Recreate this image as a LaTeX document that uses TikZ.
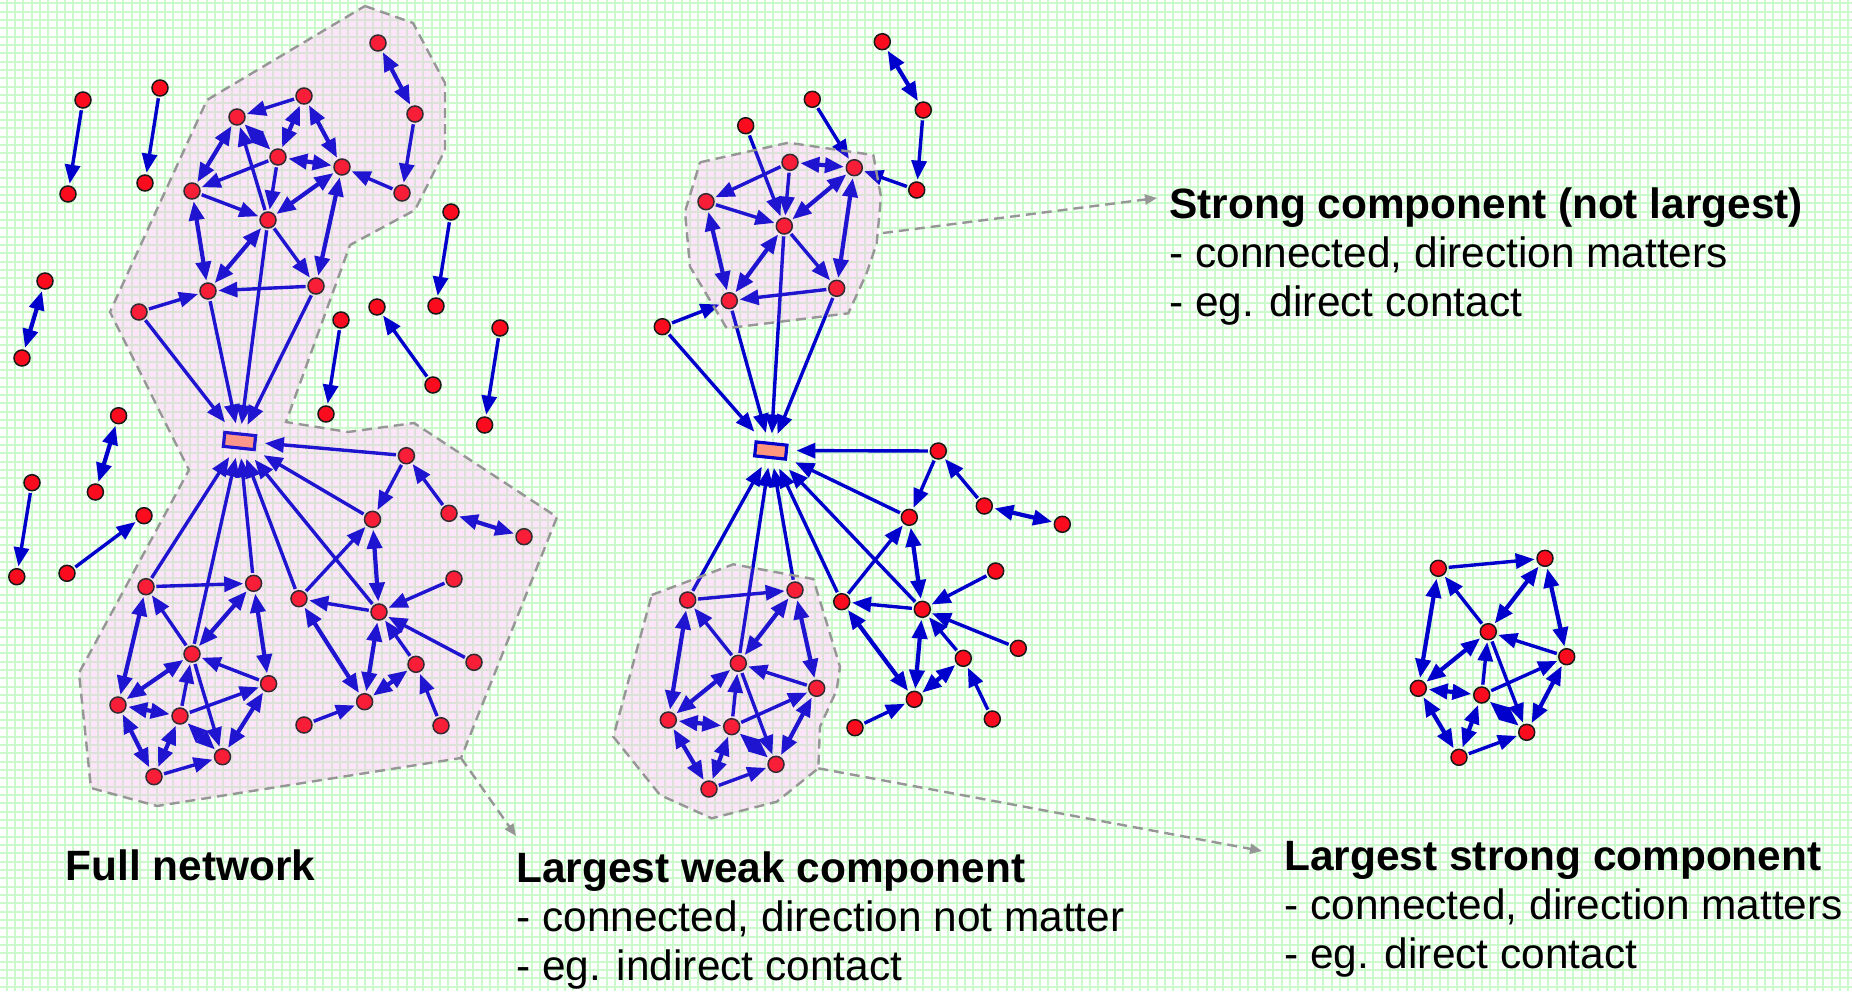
\documentclass[tikz,border=0pt]{standalone}
\usepackage{fontspec}
\setmainfont{Liberation Sans}
\usetikzlibrary{arrows.meta}
\definecolor{edgeblue}{RGB}{0,0,204}
\definecolor{vred}{RGB}{250,12,30}
\definecolor{gridgreen}{RGB}{204,250,204}
\definecolor{hubfill}{RGB}{255,150,125}
\definecolor{hullbase}{RGB}{255,205,245}
\definecolor{hulltint}{RGB}{245,155,230}
\definecolor{rimgray}{RGB}{150,150,150}
\begin{document}
\begin{tikzpicture}[x=0.5pt,y=-0.5pt,
  vtx/.style={circle,draw=black!90,line width=0.75pt,fill=vred,minimum size=8pt,inner sep=0pt,outer sep=1.2pt},
  hub/.style={rectangle,draw=edgeblue,line width=1.6pt,fill=hubfill,minimum width=15.5pt,minimum height=7pt,inner sep=0pt,outer sep=5pt,rotate=-6},
  oneway/.style={draw=edgeblue,line width=1.7pt,-{Triangle[length=9.5pt,width=7.5pt]}},
  twoway/.style={draw=edgeblue,line width=2.1pt,{Triangle[length=9.5pt,width=7.5pt]}-{Triangle[length=9.5pt,width=7.5pt]}},
  underlay/.style={fill=hullbase,fill opacity=0.28},
  overlay/.style={fill=hulltint,fill opacity=0.13},
  hullrim/.style={draw=rimgray,line width=1.2pt,dash pattern=on 5pt off 3pt},
  pointer/.style={draw=rimgray,line width=1.2pt,dash pattern=on 5pt off 3pt,-{Triangle[length=6pt,width=5pt]}},
  title/.style={anchor=base west,inner sep=0pt,font=\fontsize{21.2pt}{24pt}\selectfont\bfseries},
  body/.style={anchor=base west,inner sep=0pt,font=\fontsize{21.2pt}{24pt}\selectfont},
]
\useasboundingbox (0,0) rectangle (1852,991);
% background grid
\fill[white] (0,0) rectangle (1852,991);
\foreach \i in {0,...,222} {\draw[gridgreen,line width=1.1pt] ({6.7+8.333*\i},0) -- ({6.7+8.333*\i},991);}
\foreach \j in {0,...,119} {\draw[gridgreen,line width=1.1pt] (0,{3.3+8.333*\j}) -- (1852,{3.3+8.333*\j});}

% component outlines (shapes)
\def\fullhull{(365,6) -- (413,23) -- (445,83) -- (445,150) -- (415,210) -- (350,245) -- (286,422) -- (348,432) -- (414,423) -- (557,517) -- (461,758) -- (157,806) -- (91,788) -- (79,673) -- (189,470) -- (110,312) -- (207,100) -- cycle}
\def\tophull{(700,162.3) -- (788.3,142.7) -- (873.3,155) -- (881,196.7) -- (876.7,243.3) -- (866.7,273) -- (848.3,313.3) -- (726.7,328.3) -- (690,266.7) -- (685,211.7) -- cycle}
\def\bothull{(651.7,595) -- (733.3,564.3) -- (813.3,579) -- (840,666.7) -- (836.7,690) -- (820,726.7) -- (818.3,768.3) -- (776.7,801.7) -- (711.7,818.3) -- (660,795) -- (613.3,736.7) -- cycle}
\fill[underlay] \fullhull;
\fill[underlay] \tophull;
\fill[underlay] \bothull;

% ---------------- full network ----------------
\node[hub] (Fh) at (239.5,441) {};
\foreach \n/\x/\y in {a1/378/43,a2/415/114,a3/402/193,a4/304/96,a5/237/117,a6/278/157,a7/342/167,a8/192/191,a9/268/220,a10/208/291,a11/316/286,a12/139/312,
  b1/83/100,b2/68/194,b3/160/88,b4/145/183,b5/45/281,b6/22/358,b7/451/212,b8/436/306,b9/377/307,b10/433/385,b11/341/320,b12/326/414,
  c1/118.6/415.7,c2/95.4/492,c3/32/482.7,c4/16.8/576.7,c5/67/573.3,c6/144/515.7,c8/484.6/425,c9/500/328,
  d1/406.4/455.7,d2/372.5/519.3,d3/449/513.3,d4/524/536.7,d5/454/579,d6/379/612,d7/299/598.7,d8/146/586.7,d9/253.6/583.3,d10/192/654,
  d11/268.6/683.7,d12/118/705,d13/180/716,d14/222.5/756.7,d15/154/776.7,d16/416/664.3,d17/474/662.3,d18/364.6/701.7,d19/304/725,d20/441/725.7}
  {\node[vtx] (F\n) at (\x,\y) {};}

\foreach \s/\t in {a2/a3,a3/a7,a4/a5,a6/a8,a6/a9,a8/a9,a9/a5,a9/a11,a11/a10,a12/a10,
  b1/b2,b3/b4,b7/b8,b10/b9,b11/b12,c3/c4,c5/c6,c9/c8,
  d1/d2,d3/d1,d7/d2,d6/d7,d5/d6,d17/d6,d16/d6,d19/d18,d20/d16,d8/d9,d10/d8,d11/d10,d13/d10,d10/d14,d13/d11,d15/d14}
  {\draw[oneway] (F\s) -- (F\t);}
\foreach \s/\t in {a1/a2,a4/a6,a4/a7,a5/a6,a6/a7,a5/a8,a7/a9,a8/a10,a9/a10,a7/a11,
  b5/b6,c1/c2,
  d3/d4,d2/d6,d18/d6,d7/d18,d18/d16,d9/d10,d9/d11,d8/d12,d10/d12,d12/d13,d12/d15,d13/d15,d13/d14,d14/d11}
  {\draw[twoway] (F\s) -- (F\t);}
\foreach \s in {a12,a10,a9,a11,d1,d2,d6,d7,d8,d9,d10}
  {\draw[oneway] (F\s) -- (Fh);}

% ---------------- largest weak component ----------------
\node[hub] (Mh) at (770.8,450.5) {};
\foreach \n/\x/\y in {m1/882.3/41.7,m2/923.3/110,m3/916.7/190,m4/812.3/99.3,m5/745.7/125.7,m6/790/162.3,m7/854.3/167.7,m8/706/201.7,
  m9/784.3/226,m10/729.3/300.7,m11/836.7/288.3,m12/662.3/326.7,
  n1/938.3/451,n2/909.3/517.3,n3/984.3/506,n4/1062.3/524.3,n5/995.7/571,n6/922.3/609.3,n7/841.7/601.7,n8/687.7/600,n9/795/590,n10/738.3/663.3,
  n11/816.7/688.3,n12/668.3/720,n13/731.7/726.7,n14/776/764.3,n15/709/789,n16/963.3/658.3,n17/1018.3/648.3,n18/914.3/699.3,n19/855/727.7,n20/992.3/719}
  {\node[vtx] (M\n) at (\x,\y) {};}

\foreach \s/\t in {m2/m3,m3/m7,m4/m7,m5/m9,m6/m8,m6/m9,m8/m9,m9/m11,m11/m10,m12/m10,
  n1/n2,n3/n1,n7/n2,n6/n7,n5/n6,n17/n6,n16/n6,n19/n18,n20/n16,n8/n9,n10/n8,n11/n10,n13/n10,n10/n14,n13/n11,n15/n14}
  {\draw[oneway] (M\s) -- (M\t);}
\foreach \s/\t in {m1/m2,m6/m7,m7/m9,m7/m11,m8/m10,m9/m10,
  n3/n4,n2/n6,n18/n6,n7/n18,n18/n16,n9/n10,n9/n11,n8/n12,n10/n12,n12/n13,n12/n15,n13/n15,n13/n14,n14/n11}
  {\draw[twoway] (M\s) -- (M\t);}
\foreach \s in {m12,m10,m9,m11,n1,n2,n6,n7,n8,n9,n10}
  {\draw[oneway] (M\s) -- (Mh);}

% ---------------- largest strong component ----------------
\foreach \n/\x/\y in {r1/1438.3/568.3,r2/1545/558.3,r3/1488.3/631.7,r4/1566.7/656.7,r5/1418.3/688.3,r6/1481.7/695,r7/1526.7/732.3,r8/1459/757.3}
  {\node[vtx] (R\n) at (\x,\y) {};}
\foreach \s/\t in {r1/r2,r3/r1,r4/r3,r6/r3,r3/r7,r6/r4,r8/r7}
  {\draw[oneway] (R\s) -- (R\t);}
\foreach \s/\t in {r2/r3,r2/r4,r1/r5,r3/r5,r5/r6,r5/r8,r6/r8,r6/r7,r4/r7}
  {\draw[twoway] (R\s) -- (R\t);}

% translucent tint and dashed rims of the components
\fill[overlay] \fullhull;
\fill[overlay] \tophull;
\fill[overlay] \bothull;
\draw[hullrim] \fullhull;
\draw[hullrim] \tophull;
\draw[hullrim] \bothull;

% ---------------- captions ----------------
\node[title] (capStrong) at (1169,218) {Strong component (not largest)};
\node[body] (capStrongA) at (1169,267) {- connected, direction matters};
\node[body] (capStrongB) at (1169,316) {- eg. direct contact};
\node[title] (capFull) at (65,880) {Full network};
\node[title] (capWeak) at (516,882) {Largest weak component};
\node[body] (capWeakA) at (516,931) {- connected, direction not matter};
\node[body] (capWeakB) at (516,980) {- eg. indirect contact};
\node[title] (capLS) at (1284,870) {Largest strong component};
\node[body] (capLSA) at (1284,919) {- connected, direction matters};
\node[body] (capLSB) at (1284,968) {- eg. direct contact};

% ---------------- pointers from outlines to captions ----------------
\coordinate (fullCorner) at (461,758);
\coordinate (weakTip) at (516,836);
\coordinate (topCorner) at (883,233);
\coordinate (strongTip) at (1157,198);
\coordinate (botCorner) at (818.3,768.3);
\coordinate (lsTip) at (1262,851);
\draw[pointer] (fullCorner) -- (weakTip);
\draw[pointer] (topCorner) -- (strongTip);
\draw[pointer] (botCorner) -- (lsTip);
\end{tikzpicture}
\end{document}
